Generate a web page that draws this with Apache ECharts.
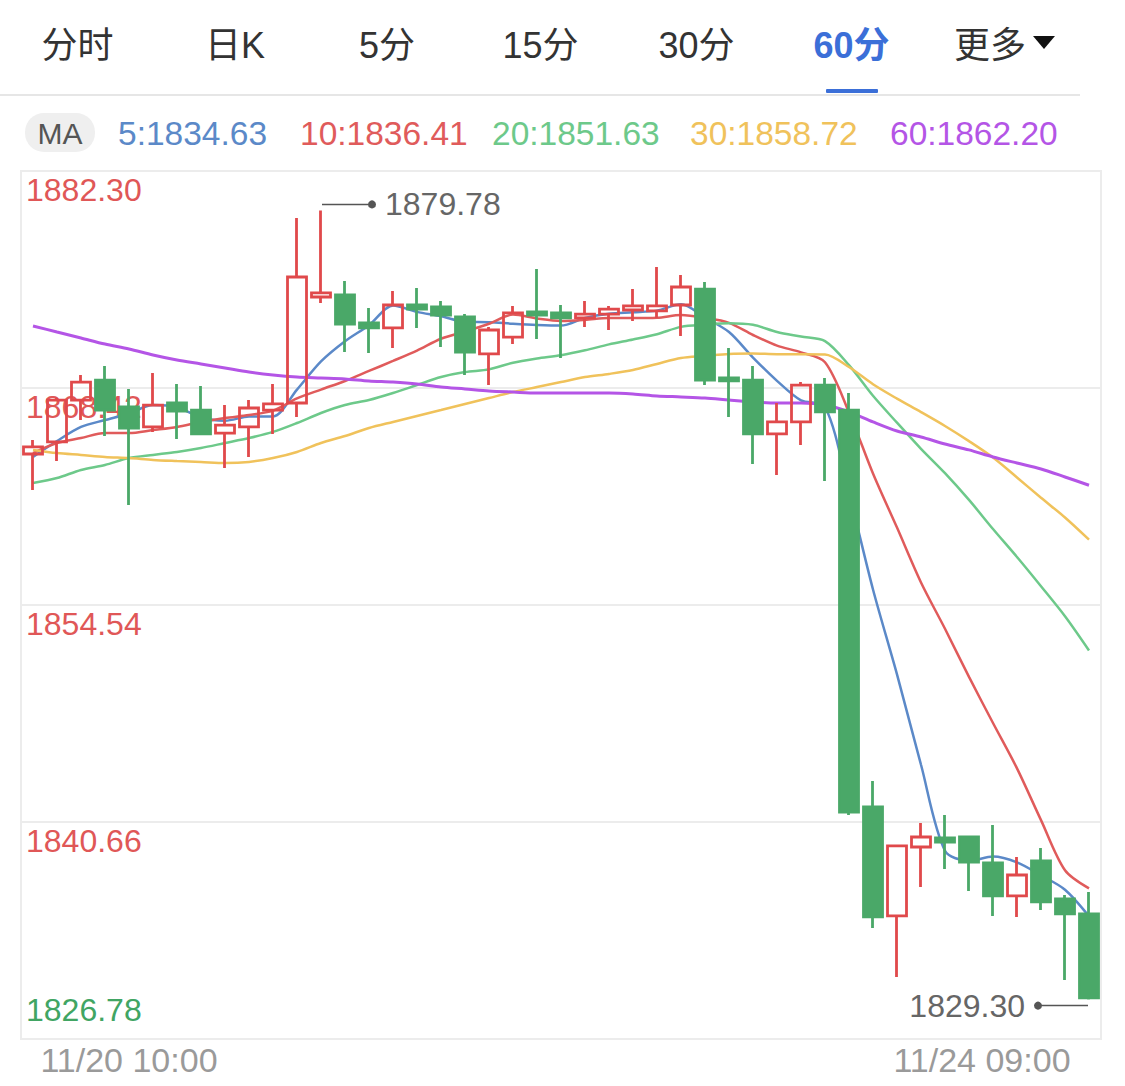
<!DOCTYPE html>
<html><head><meta charset="utf-8">
<script src="https://cdn.jsdelivr.net/npm/echarts@6/dist/echarts.min.js"></script>
<style>html,body{margin:0;padding:0;background:#fff}#c{width:1125px;height:1086px}</style>
</head><body><div id="c"></div>
<script>
const categories = [
 '11/20 06:00','11/20 07:00','11/20 08:00','11/20 09:00','11/20 10:00','11/20 11:00','11/20 12:00','11/20 13:00','11/20 14:00','11/20 15:00',
 '11/20 16:00','11/20 17:00','11/20 18:00','11/20 19:00','11/20 20:00','11/20 21:00','11/20 22:00','11/20 23:00','11/21 00:00','11/21 01:00',
 '11/21 02:00','11/21 03:00','11/21 04:00','11/21 05:00','11/23 17:00','11/23 18:00','11/23 19:00','11/23 20:00','11/23 21:00','11/23 22:00',
 '11/23 23:00','11/24 00:00','11/24 01:00','11/24 02:00','11/24 03:00','11/24 04:00','11/24 05:00','11/24 06:00','11/24 07:00','11/24 08:00',
 '11/24 09:00','11/24 10:00','11/24 11:00','11/24 12:00','11/24 13:00'];
const xLabelShown = ['11/20 10:00','11/24 09:00'];

const openVals  = [1864.20,1864.97,1867.65,1868.93,1867.21,1865.93,1867.46,1867.01,1865.54,1865.93,
 1867.01,1867.46,1874.24,1874.37,1872.58,1872.26,1873.73,1873.60,1872.96,1870.60,
 1871.68,1873.28,1873.22,1872.90,1873.15,1873.41,1873.35,1873.73,1874.75,1869.06,
 1868.93,1865.48,1866.25,1868.61,1867.01,1841.62,1834.65,1839.06,1839.64,1839.70,
 1838.04,1835.93,1838.17,1835.74,1834.78];
const closeVals = [1864.65,1867.65,1868.80,1867.01,1865.86,1867.33,1866.95,1865.48,1866.05,1867.14,
 1867.40,1875.52,1874.50,1872.51,1872.26,1873.73,1873.47,1873.09,1870.72,1872.13,
 1873.22,1873.09,1872.90,1873.15,1873.47,1873.67,1873.67,1874.88,1868.93,1868.87,
 1865.48,1866.25,1868.61,1866.89,1841.30,1834.59,1839.13,1839.70,1839.38,1838.10,
 1835.93,1837.27,1835.55,1834.78,1829.41];
const lowVals   = [1861.90,1863.75,1866.37,1865.35,1860.94,1865.61,1865.16,1865.42,1863.30,1864.01,
 1865.48,1866.57,1873.86,1870.72,1870.66,1870.98,1872.26,1871.04,1869.25,1868.61,
 1871.23,1871.55,1870.34,1872.32,1872.13,1872.71,1872.90,1871.75,1868.61,1866.57,
 1863.56,1862.86,1864.78,1862.47,1841.11,1833.88,1830.75,1836.50,1837.66,1836.25,
 1834.65,1834.59,1835.03,1830.56,1829.30];
const highVals  = [1865.09,1867.80,1869.25,1869.83,1868.36,1869.38,1868.68,1868.55,1867.33,1867.65,
 1868.68,1879.29,1879.78,1875.26,1873.54,1874.62,1874.82,1873.99,1873.15,1872.32,
 1873.67,1876.03,1873.73,1873.99,1873.67,1874.75,1876.16,1875.65,1875.20,1870.98,
 1869.83,1867.46,1868.80,1869.06,1868.10,1843.28,1839.19,1840.60,1841.11,1839.80,
 1840.47,1838.42,1839.00,1835.99,1836.18];

const ma5  = [1864.01,1865.03,1865.93,1866.37,1866.79,1867.33,1867.19,1866.53,1866.33,1866.59,
 1866.60,1868.32,1870.12,1871.41,1872.44,1873.70,1873.29,1873.01,1872.65,1872.63,
 1872.53,1872.45,1872.41,1872.90,1873.17,1873.26,1873.37,1873.77,1872.92,1872.00,
 1870.37,1868.88,1867.63,1867.22,1861.71,1855.53,1850.10,1844.32,1838.82,1838.18,
 1838.45,1838.08,1837.25,1836.33,1834.63];
const ma10 = [1864.26,1864.90,1865.22,1865.54,1865.54,1865.73,1865.93,1866.25,1866.50,1866.69,
 1866.97,1867.75,1868.32,1868.87,1869.51,1870.15,1870.81,1871.57,1872.03,1872.53,
 1873.12,1872.87,1872.71,1872.78,1872.90,1872.89,1872.91,1873.09,1872.91,1872.59,
 1871.81,1871.13,1870.70,1870.07,1866.86,1862.95,1859.49,1855.98,1853.02,1849.94,
 1846.99,1844.09,1840.78,1837.57,1836.41];
const ma20 = [1862.34,1862.66,1863.18,1863.50,1863.94,1864.14,1864.33,1864.58,1864.90,1865.22,
 1865.61,1866.18,1866.82,1867.33,1867.65,1868.10,1868.61,1869.12,1869.44,1869.61,
 1870.04,1870.31,1870.52,1870.83,1871.21,1871.52,1871.86,1872.33,1872.47,1872.56,
 1872.46,1872.00,1871.71,1871.42,1869.88,1867.92,1866.20,1864.53,1862.97,1861.26,
 1859.40,1857.61,1855.74,1853.82,1851.63];
const ma30 = [1864.46,1864.26,1864.14,1864.01,1863.94,1863.82,1863.75,1863.69,1863.62,1863.69,
 1863.94,1864.33,1864.90,1865.35,1865.86,1866.25,1866.63,1867.01,1867.40,1867.78,
 1868.16,1868.48,1868.80,1869.12,1869.32,1869.57,1869.96,1870.34,1870.47,1870.60,
 1870.63,1870.58,1870.58,1870.57,1869.76,1868.66,1867.74,1866.88,1865.99,1865.02,
 1863.97,1862.70,1861.40,1860.14,1858.72];
const ma60 = [1872.39,1872.00,1871.62,1871.23,1870.92,1870.53,1870.21,1869.96,1869.70,1869.44,
 1869.25,1869.12,1869.06,1869.00,1868.87,1868.80,1868.68,1868.48,1868.36,1868.23,
 1868.16,1868.10,1868.10,1868.10,1868.10,1868.04,1867.91,1867.85,1867.78,1867.65,
 1867.53,1867.46,1867.46,1867.33,1866.89,1866.25,1865.67,1865.29,1864.84,1864.46,
 1864.01,1863.62,1863.24,1862.73,1862.20];

const yMin = 1826.78, yMax = 1882.30, yStep = 13.88;
const tabs = ['分时','日K','5分','15分','30分','60分'];
const maNames = ['MA5','MA10','MA20','MA30','MA60'];
const maLegend = ['5:1834.63','10:1836.41','20:1851.63','30:1858.72','60:1862.20'];

const FONT = '"Liberation Sans", Arial, "Noto Sans CJK SC", sans-serif';
const RED = '#e0494b', GREEN = '#4aa868';
const maColors = ['#5b89c8','#e05b5b','#6dc98a','#f0c25b','#b455e6'];
const maWidths = [2.5,2.5,2.5,2.5,3];
const maData = [ma5, ma10, ma20, ma30, ma60];

const kData = openVals.map((o,i)=>[o, closeVals[i], lowVals[i], highVals[i]]);

const chart = echarts.init(document.getElementById('c'), null, {renderer:'svg'});

const series = maData.map((d,i)=>({
  name: maNames[i], type:'line', data:d, smooth:0.3, symbol:'none', z:2,
  lineStyle:{color:maColors[i], width:maWidths[i]}, silent:true, animation:false
}));
series.push({
  name:'K', type:'candlestick', data:kData, barWidth:19, z:3, animation:false,
  itemStyle:{color:'rgba(255,255,255,0)', color0:GREEN, borderColor:RED, borderColor0:GREEN, borderWidth:2.8}
});

chart.setOption({
  animation:false,
  backgroundColor:'#fff',
  grid:{left:21, right:24, top:171, bottom:47, show:true, borderColor:'#ececec', borderWidth:2, backgroundColor:'transparent'},
  xAxis:{type:'category', data:categories, boundaryGap:true,
    axisLine:{show:false}, axisTick:{show:false}, splitLine:{show:false},
    axisLabel:{interval:(idx,val)=>xLabelShown.indexOf(val)>=0, color:'#9a9a9a', fontSize:34, fontFamily:FONT, margin:4,
      formatter:(v)=> v===xLabelShown[1] ? '{r|'+v+'}' : '{l|'+v+'}',
      rich:{
        l:{fontSize:34, fontFamily:FONT, color:'#9a9a9a'},
        r:{fontSize:34, fontFamily:FONT, color:'#9a9a9a', padding:[0,22,0,0]}
      }}},
  yAxis:[
    {type:'value', min:yMin, max:yMax, interval:yStep, position:'left', scale:true,
     axisLine:{show:false}, axisTick:{show:false},
     splitLine:{show:true, lineStyle:{color:'#ececec', width:2}},
     axisLabel:{inside:true, margin:5, showMinLabel:false, showMaxLabel:true, verticalAlign:'top',
       fontSize:32, fontFamily:FONT, color:'#e05757', padding:[3,0,0,0],
       formatter:v=>v.toFixed(2)}},
    {type:'value', min:yMin, max:yMax, interval:yStep, position:'left', scale:true,
     axisLine:{show:false}, axisTick:{show:false}, splitLine:{show:false},
     axisLabel:{inside:true, margin:5, showMinLabel:true, showMaxLabel:false, verticalAlign:'bottom',
       fontSize:32, fontFamily:FONT, color:'#41a563', padding:[0,0,13,0],
       formatter:v=>Math.abs(v-yMin)<0.001 ? v.toFixed(2) : ''}}
  ],
  series: series
});

// header + legend + max/min markers
const g = [];
const tabX = [77.5, 235, 387, 540.5, 696.5, 851.5];
tabs.forEach((t,i)=>{
  const active = t==='60分';
  g.push({type:'text', silent:true, style:{text:t, x:tabX[i], y:45, textAlign:'center', textVerticalAlign:'middle', align:'center', verticalAlign:'middle',
    fontSize:36, fontFamily:FONT, fontWeight: active?'bold':'normal', fill: active?'#3b6fd8':'#333333'}});
});
g.push({type:'text', silent:true, style:{text:'更多', x:990, y:45, textAlign:'center', textVerticalAlign:'middle', align:'center', verticalAlign:'middle', fontSize:36, fontFamily:FONT, fill:'#333333'}});
g.push({type:'polygon', silent:true, shape:{points:[[1033,36],[1055,36],[1044,49]]}, style:{fill:'#111'}});
g.push({type:'rect', silent:true, shape:{x:0, y:94, width:1080, height:2}, style:{fill:'#e6e6e6'}});
g.push({type:'rect', silent:true, shape:{x:826, y:89, width:52, height:4, r:1}, style:{fill:'#3b6fd8'}});
g.push({type:'rect', silent:true, shape:{x:25, y:113, width:70, height:39, r:19}, style:{fill:'#efefef'}});
g.push({type:'text', silent:true, style:{text:'MA', x:60, y:133, textAlign:'center', textVerticalAlign:'middle', align:'center', verticalAlign:'middle', fontSize:30, fontFamily:FONT, fill:'#555'}});
const legX = [118, 300, 492, 690, 890];
maLegend.forEach((t,i)=>{
  g.push({type:'text', silent:true, style:{text:t, x:legX[i], y:133, textAlign:'left', textVerticalAlign:'middle', align:'left', verticalAlign:'middle', fontSize:33.5, fontFamily:FONT, fill:maColors[i]}});
});

const hiMax = Math.max(...highVals), loMin = Math.min(...lowVals);
const iMax = highVals.indexOf(hiMax), iMin = lowVals.indexOf(loMin);
const pMax = chart.convertToPixel({gridIndex:0}, [iMax, hiMax]);
const pMin = chart.convertToPixel({gridIndex:0}, [iMin, loMin]);
const my = pMax[1]-6, ny = pMin[1]+6;
g.push({type:'line', silent:true, shape:{x1:pMax[0]+1, y1:my, x2:pMax[0]+48, y2:my}, style:{stroke:'#555', lineWidth:1.5}});
g.push({type:'circle', silent:true, shape:{cx:pMax[0]+51, cy:my, r:4}, style:{fill:'#555'}});
g.push({type:'text', silent:true, style:{text:hiMax.toFixed(2), x:pMax[0]+64, y:my, textAlign:'left', textVerticalAlign:'middle', align:'left', verticalAlign:'middle', fontSize:32, fontFamily:FONT, fill:'#666'}});
g.push({type:'line', silent:true, shape:{x1:pMin[0]-1, y1:ny, x2:pMin[0]-48, y2:ny}, style:{stroke:'#555', lineWidth:1.5}});
g.push({type:'circle', silent:true, shape:{cx:pMin[0]-51, cy:ny, r:4}, style:{fill:'#555'}});
g.push({type:'text', silent:true, style:{text:loMin.toFixed(2), x:pMin[0]-64, y:ny, textAlign:'right', textVerticalAlign:'middle', align:'right', verticalAlign:'middle', fontSize:32, fontFamily:FONT, fill:'#666'}});

chart.setOption({graphic:g});
</script></body></html>
